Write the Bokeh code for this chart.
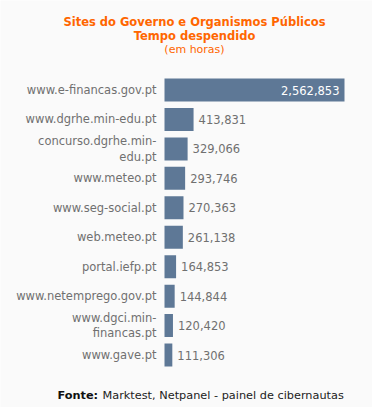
from bokeh.plotting import figure
from bokeh.models import Range1d, ColumnDataSource, Label
from bokeh.embed import file_html
from bokeh.resources import INLINE
from bokeh.core.properties import value

sites = ["www.e-financas.gov.pt", "www.dgrhe.min-edu.pt", "concurso.dgrhe.min-\nedu.pt",
         "www.meteo.pt", "www.seg-social.pt", "web.meteo.pt", "portal.iefp.pt",
         "www.netemprego.gov.pt", "www.dgci.min-\nfinancas.pt", "www.gave.pt"]
hours = [2562853, 413831, 329066, 293746, 270363, 261138, 164853, 144844, 120420, 111306]

FONT = "DejaVu Sans"
W, H = 372, 407
bar_left_px, bar_right_px = 164, 344
per_px = max(hours) / (bar_right_px - bar_left_px)
row0_px, row_step = 89.5, 29.45

p = figure(width=W, height=H, output_backend="svg", toolbar_location=None,
           x_range=Range1d(-bar_left_px * per_px, (W - bar_left_px) * per_px),
           y_range=Range1d((H - row0_px) / row_step, -row0_px / row_step),
           min_border=0, min_border_left=0, min_border_right=0,
           min_border_top=0, min_border_bottom=0)
p.axis.visible = False
p.grid.visible = False
p.outline_line_color = None
p.background_fill_color = "#fafafa"
p.border_fill_color = "#fafafa"

ys = list(range(len(sites)))
inside = [v > 0.5 * max(hours) for v in hours]
src = ColumnDataSource(dict(
    y=ys, v=hours, site=sites,
    lab=[f"{v:,}" for v in hours],
    lx=hours,
    off=[-5 if i else 5 for i in inside],
    col=["#ffffff" if i else "#707070" for i in inside],
    align=["right" if i else "left" for i in inside],
    zero=[0] * len(hours),
))

p.hbar(y="y", left=0, right="v", height=0.78, source=src,
       fill_color="#5e7896", line_color=None)

p.text(x="zero", y="y", text="site", source=src, x_offset=-8,
       text_align="right", text_baseline="middle",
       text_font=value(FONT), text_font_size="11.5px", text_color="#707070",
       text_line_height=1.1)

p.text(x="lx", y="y", text="lab", source=src, x_offset="off",
       text_align="align", text_baseline="middle",
       text_font=value(FONT), text_font_size="11.5px", text_color="col")

cx = 194
p.add_layout(Label(x=cx, y=H - 21, x_units="screen", y_units="screen",
                   text="Sites do Governo e Organismos Públicos", text_align="center",
                   text_baseline="middle", text_font=FONT, text_font_size="11.5px",
                   text_font_style="bold", text_color="#ff6600"))
p.add_layout(Label(x=cx, y=H - 35, x_units="screen", y_units="screen",
                   text="Tempo despendido", text_align="center",
                   text_baseline="middle", text_font=FONT, text_font_size="11.5px",
                   text_font_style="bold", text_color="#ff6600"))
p.add_layout(Label(x=cx, y=H - 49, x_units="screen", y_units="screen",
                   text="(em horas)", text_align="center",
                   text_baseline="middle", text_font=FONT, text_font_size="11px",
                   text_color="#ff6600"))

p.add_layout(Label(x=57, y=H - 395, x_units="screen", y_units="screen",
                   text="Fonte:", text_align="left", text_baseline="middle",
                   text_font=FONT, text_font_size="11.3px", text_font_style="bold",
                   text_color="#111111"))
p.add_layout(Label(x=102, y=H - 395, x_units="screen", y_units="screen",
                   text="Marktest, Netpanel - painel de cibernautas", text_align="left",
                   text_baseline="middle", text_font=FONT, text_font_size="11.3px",
                   text_color="#222222"))

open("out.html", "w").write(file_html(p, INLINE))
